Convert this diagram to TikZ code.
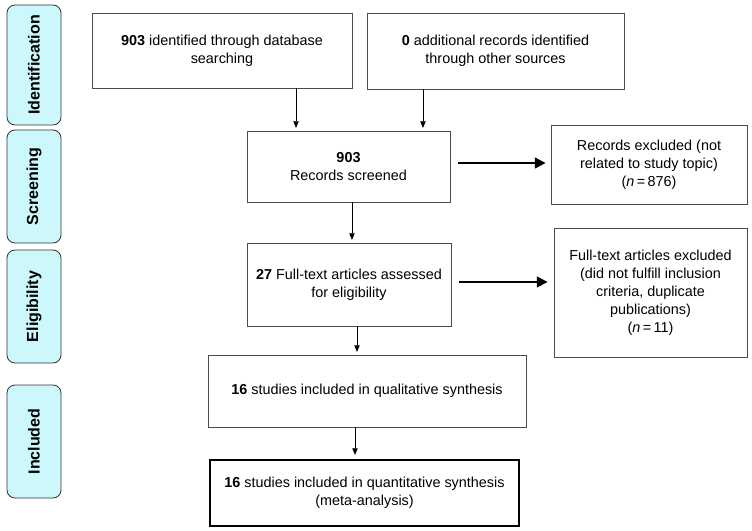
\documentclass[tikz,border=0pt]{standalone}
\usepackage{fontspec}
\setmainfont{Liberation Sans}
\usepackage{tikz}
\usepackage{xcolor}
\usetikzlibrary{shapes.geometric, arrows, arrows.meta, positioning}
\definecolor{phasecyan}{RGB}{204,247,251}
\tikzstyle{arrow} = [line width=0.6pt, -{Triangle[length=5pt, width=4pt]},
    shorten >=2pt]
\tikzstyle{bigarrow} = [line width=1.5pt, -{Triangle[length=8pt, width=8pt]}]
\tikzstyle{block} = [rectangle, draw=black!70, line width=0.6pt,
    align=center, inner sep=0pt, font=\fontsize{10.8}{13.5}\selectfont]
\tikzstyle{phase} = [rectangle, draw=black!80, line width=0.6pt,
    rounded corners=6pt, fill=phasecyan, rotate=90, minimum width=84.75pt,
    minimum height=40.5pt, font=\bfseries\fontsize{12}{14}\selectfont]

\begin{document}
\begin{tikzpicture}[x=0.75pt, y=-0.75pt, auto]
	\useasboundingbox (0,0) rectangle (752,531);
	\node [phase, minimum width=90pt] (Identification) at (34,65)
		{Identification};
	\node [phase] (Screening) at (34,186.5) {Screening};
	\node [phase] (Eligibility) at (34,306.5) {Eligibility};
	\node [phase] (Included) at (34,441.5) {Included};
	\node [block, minimum width=195pt, minimum height=56.25pt] (Database)
		at (222,50.5) {\textbf{903} identified through database\\searching};
	\node [block, minimum width=192.75pt, minimum height=57pt] (Other)
		at (495.5,51) {\textbf{0} additional records identified\\through other sources};
	\node [block, minimum width=152.25pt, minimum height=53.25pt] (Screened)
		at (348.5,166.5) {\textbf{903}\\Records screened};
	\node [block, minimum width=147pt, minimum height=59.25pt] (Excluded)
		at (649,164.5) {Records excluded (not\\related to study topic)\\
		(\textit{n}\,=\,876)};
	\node [block, minimum width=153pt, minimum height=62.25pt] (Fulltext)
		at (349,284.5) {\textbf{27} Full-text articles assessed\\for eligibility};
	\node [block, minimum width=144.75pt, minimum height=96.75pt] (Fullexcl)
		at (650.5,292.5) {Full-text articles excluded\\(did not fulfill inclusion\\
		criteria, duplicate\\publications)\\(\textit{n}\,=\,11)};
	\node [block, minimum width=238.5pt, minimum height=54pt] (Qualitative)
		at (367,391) {\textbf{16} studies included in qualitative synthesis};
	\node [block, draw=black, line width=1.6pt, minimum width=231.75pt,
		minimum height=49.5pt] (Quantitative) at (364.5,493)
		{\textbf{16} studies included in quantitative synthesis\\(meta-analysis)};
	\coordinate [xshift=55.5pt] (dbout) at (Database.south);
	\coordinate [xshift=-54.4pt] (otherout) at (Other.south);
	\coordinate [xshift=2.6pt] (scrdown) at (Screened.south);
	\coordinate [xshift=6pt] (ftdown) at (Fulltext.south);
	\coordinate [xshift=-9pt] (qualdown) at (Qualitative.south);
	\coordinate [yshift=2.6pt] (scrright) at (Screened.east);
	\coordinate [yshift=1.9pt] (ftright) at (Fulltext.east);
	\draw [arrow] (dbout) -- (dbout |- Screened.north);
	\draw [arrow] (otherout) -- (otherout |- Screened.north);
	\draw [arrow] (scrdown) -- (scrdown |- Fulltext.north);
	\draw [arrow] (ftdown) -- (ftdown |- Qualitative.north);
	\draw [arrow, shorten >=3pt] (qualdown) -- (qualdown |- Quantitative.north);
	\draw [bigarrow, shorten <=5.5pt, shorten >=3.75pt] (scrright)
		-- (scrright -| Excluded.west);
	\draw [bigarrow, shorten <=6pt, shorten >=4.5pt] (ftright)
		-- (ftright -| Fullexcl.west);
\end{tikzpicture}
\end{document}
